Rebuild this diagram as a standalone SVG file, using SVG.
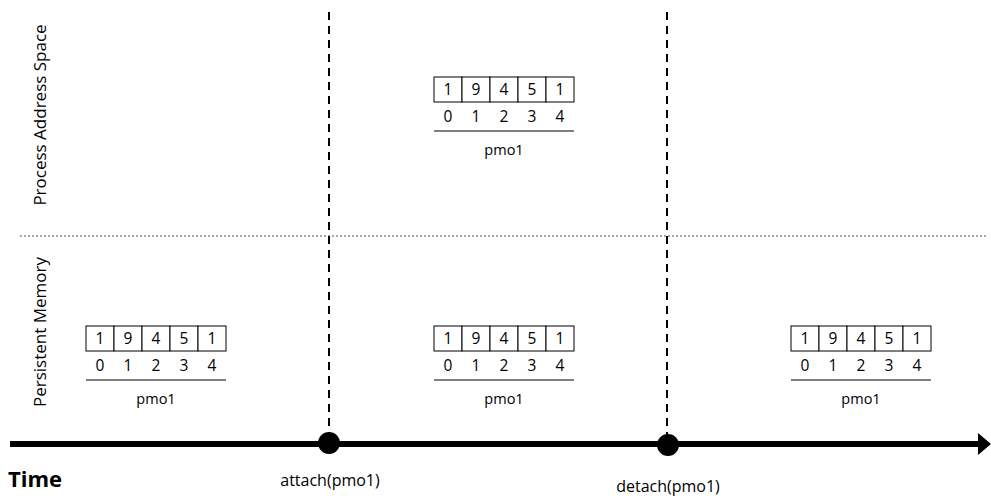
<svg xmlns="http://www.w3.org/2000/svg" width="991" height="496" viewBox="0 0 991 496">
  <style>
    text { font-family: "Open Sans", "Liberation Sans", sans-serif; fill: #000; }
    .cell { fill: #fff; stroke: #000; stroke-width: 1; }
    .val { font-size: 15.5px; text-anchor: middle; }
    .idx { font-size: 15.5px; text-anchor: middle; }
    .name { font-size: 14.5px; text-anchor: middle; }
    .rule { stroke: #000; stroke-width: 1.2; }
    .lane { font-size: 17px; text-anchor: middle; }
    .event { font-size: 16px; text-anchor: middle; }
    .phase { stroke: #000; stroke-width: 2; stroke-dasharray: 8 6; fill: none; }
    .divider { stroke: #8a8a8a; stroke-width: 1.3; stroke-dasharray: 2 2; fill: none; }
  </style>
  <defs>
    <!-- five-cell array with indices and caption; origin at top-left of the cells -->
    <g id="pmo-array">
      <rect class="cell" x="0" y="0" width="28" height="25"/>
      <rect class="cell" x="28" y="0" width="28" height="25"/>
      <rect class="cell" x="56" y="0" width="28" height="25"/>
      <rect class="cell" x="84" y="0" width="28" height="25"/>
      <rect class="cell" x="112" y="0" width="28" height="25"/>
      <text class="val" x="14" y="18">1</text>
      <text class="val" x="42" y="18">9</text>
      <text class="val" x="70" y="18">4</text>
      <text class="val" x="98" y="18">5</text>
      <text class="val" x="126" y="18">1</text>
      <text class="idx" x="14" y="45">0</text>
      <text class="idx" x="42" y="45">1</text>
      <text class="idx" x="70" y="45">2</text>
      <text class="idx" x="98" y="45">3</text>
      <text class="idx" x="126" y="45">4</text>
      <line class="rule" x1="0" y1="54" x2="140" y2="54"/>
      <text class="name" x="70" y="78">pmo1</text>
    </g>
  </defs>

  <rect width="991" height="496" fill="#fff"/>

  <!-- lane labels -->
  <text class="lane" transform="translate(46,115) rotate(-90)">Process Address Space</text>
  <text class="lane" transform="translate(46,332) rotate(-90)">Persistent Memory</text>
  <text x="8" y="487" font-size="22" font-weight="bold">Time</text>

  <!-- connectors: lane divider, phase boundaries, time axis -->
  <g id="connectors">
    <line class="divider" x1="20" y1="236" x2="986" y2="236"/>
    <line class="phase" x1="329" y1="12" x2="329" y2="436"/>
    <line class="phase" x1="667" y1="12" x2="667" y2="436"/>
    <line x1="10" y1="444" x2="980" y2="444" stroke="#000" stroke-width="6"/>
    <polygon points="978,433 991,444 978,455" fill="#000"/>
  </g>

  <!-- events on the time axis -->
  <g id="attach">
    <circle cx="329" cy="443" r="11" fill="#000"/>
    <text class="event" x="330" y="486">attach(pmo1)</text>
  </g>
  <g id="detach">
    <circle cx="668" cy="445" r="11" fill="#000"/>
    <text class="event" x="668" y="492">detach(pmo1)</text>
  </g>

  <!-- pmo1 instances -->
  <g id="pmo-mapped"><use href="#pmo-array" x="434" y="77"/></g>
  <g id="pmo-before"><use href="#pmo-array" x="86" y="326"/></g>
  <g id="pmo-during"><use href="#pmo-array" x="434" y="326"/></g>
  <g id="pmo-after"><use href="#pmo-array" x="791" y="326"/></g>
</svg>
